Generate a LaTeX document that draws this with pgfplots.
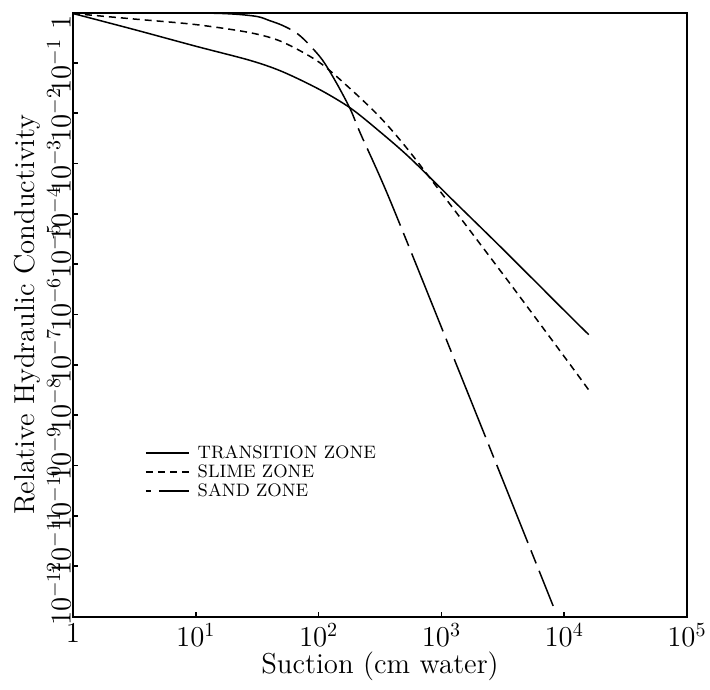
\documentclass[border=0pt]{standalone}
\usepackage{pgfplots}
\pgfplotsset{compat=1.18}
\begin{document}
\begin{tikzpicture}
\begin{axis}[
  scale only axis, width=307pt, height=302pt,
  xmode=log, ymode=log,
  xmin=1, xmax=1e5, ymin=1e-12, ymax=1,
  xtick={1,10,100,1000,10000,100000},
  xticklabels={$1$,$10^{1}$,$10^{2}$,$10^{3}$,$10^{4}$,$10^{5}$},
  ytick={1e-12,1e-11,1e-10,1e-9,1e-8,1e-7,1e-6,1e-5,1e-4,1e-3,1e-2,1e-1,1},
  yticklabels={\hspace*{23pt}$10^{-12}$,\hspace*{23pt}$10^{-11}$,\hspace*{18pt}$10^{-10}$,\hspace*{12pt}$10^{-9}$,\hspace*{10pt}$10^{-8}$,\hspace*{9pt}$10^{-7}$,\hspace*{10pt}$10^{-6}$,\hspace*{13pt}$10^{-5}$,$10^{-4}$,$10^{-3}$\hspace*{3pt},$10^{-2}$\hspace*{2pt},$10^{-1}$\hspace*{3pt},$1$\hspace*{10pt}},
  xminorticks=false, yminorticks=false,
  tick pos=left, tick align=inside, major tick length=2.5pt,
  axis line style={line width=1pt},
  tick style={line width=0.8pt, black},
  ticklabel style={font=\Large},
  yticklabel style={rotate=90, anchor=south, inner sep=1pt},
  xlabel={Suction (cm water)}, ylabel={Relative Hydraulic Conductivity},
  label style={font=\Large},
  xlabel style={at={(axis description cs:0.5,-0.047)}, anchor=north},
  ylabel style={at={(axis description cs:-0.075,0.5)}, anchor=center},
  legend style={at={(0.117,0.287)}, anchor=north west, draw=none, fill=none,
    font=\small, inner sep=0pt, row sep=0pt, column sep=3pt,
    nodes={inner sep=1pt, text height=6.5pt, text depth=1pt}},
  legend cell align=left,
  legend image code/.code={\draw[#1] (0pt,0pt) -- (21.5pt,0pt);},
]
\coordinate (sw) at (rel axis cs:0,0);
\coordinate (ne) at (rel axis cs:1,1);
\addplot[black, line width=0.75pt, smooth] coordinates {
(1,0.955)(3.162,0.4571)(10,0.2138)(27.54,0.1122)(50.12,0.06761)(100,0.0302)(182,0.01259)(316.2,0.004266)(549.5,0.001318)(1230,1.905e-4)(3162,1.995e-5)(11220,9.12e-7)(15849,3.981e-7)};
\addlegendentry{TRANSITION ZONE}
\addplot[black, line width=0.75pt, smooth, dash pattern=on 3.5pt off 2.5pt] coordinates {
(1,0.955)(3.162,0.7413)(10,0.5754)(27.54,0.3981)(50.12,0.2630)(100,0.1047)(182,0.0302)(316.2,0.008318)(524.8,0.001995)(1047,2.239e-4)(1820,3.802e-5)(3981,3.020e-6)(11220,1e-7)(15849,3.162e-8)};
\addlegendentry{SLIME ZONE}
\addplot[black, line width=0.75pt, smooth, dash pattern=on 7pt off 4pt on 42pt off 4pt, legend image post style={dash phase=4.5pt}] coordinates {
(1,0.9886)(10,0.977)(19.95,0.9333)(31.62,0.8318)(39.81,0.6918)(50.12,0.5623)(64.57,0.4074)(79.43,0.2630)(107.2,0.1148)(141.3,0.03802)(182,0.01175)(218.8,0.003981)(380.2,1.905e-4)(1259,1.380e-7)(3162,5.129e-10)(8128,1.622e-12)};
\addlegendentry{SAND ZONE}
\end{axis}
\pgfresetboundingbox
\path[use as bounding box] ([shift={(-36.5pt,-36.5pt)}]sw) rectangle ([shift={(11.5pt,6.25pt)}]ne);
\end{tikzpicture}
\end{document}
